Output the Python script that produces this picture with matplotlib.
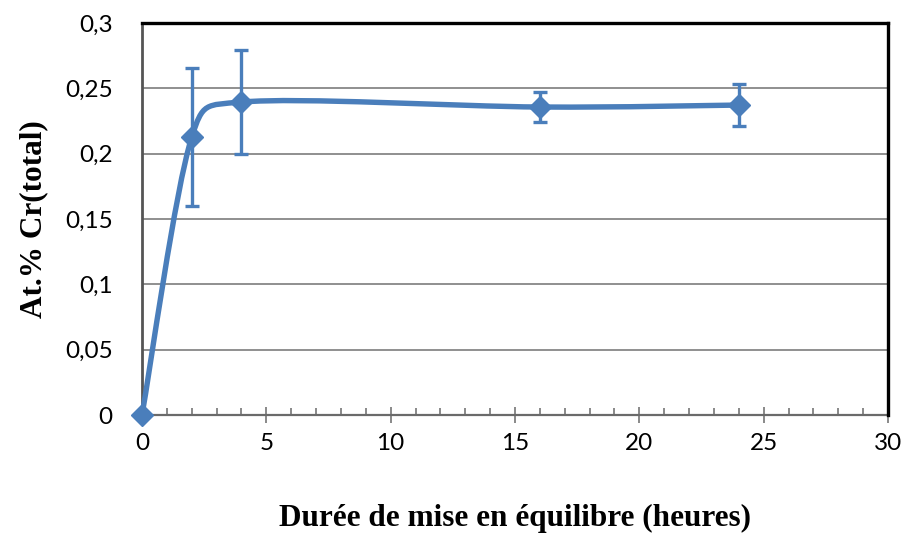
import numpy as np
import matplotlib.pyplot as plt
from matplotlib.path import Path
from matplotlib.patches import PathPatch
from matplotlib.ticker import MultipleLocator

# data
hours = [0, 2, 4, 16, 24]
cr_total = [0.0, 0.2127, 0.2395, 0.2357, 0.2372]
cr_err = [0.0, 0.053, 0.0395, 0.0118, 0.016]

x_ticks = [0, 5, 10, 15, 20, 25, 30]
x_ticklabels = ['0', '5', '10', '15', '20', '25', '30']
y_ticks = [0, 0.05, 0.1, 0.15, 0.2, 0.25, 0.3]
y_ticklabels = ['0', '0,05', '0,1', '0,15', '0,2', '0,25', '0,3']

blue = '#4A7EBB'


def smooth_path(x, y, sx, sy):
    # Excel-like smoothed line: cubic bezier through the points,
    # computed in pixel-proportional space
    P = np.column_stack([np.asarray(x, float) * sx, np.asarray(y, float) * sy])
    n = len(P)
    verts = [P[0]]
    codes = [Path.MOVETO]
    for i in range(n - 1):
        p0 = P[max(i - 1, 0)]
        p1 = P[i]
        p2 = P[i + 1]
        p3 = P[min(i + 2, n - 1)]
        seg = np.linalg.norm(p2 - p1)
        t1 = p2 - p0
        t2 = p3 - p1
        m1 = min(np.linalg.norm(t1) / 6, 0.6 * seg)
        m2 = min(np.linalg.norm(t2) / 6, 0.6 * seg)
        c1 = p1 + t1 / np.linalg.norm(t1) * m1
        c2 = p2 - t2 / np.linalg.norm(t2) * m2
        verts += [c1, c2, p2]
        codes += [Path.CURVE4] * 3
    verts = np.array(verts) / np.array([sx, sy])
    return Path(verts, codes)


fig = plt.figure(figsize=(9.06, 5.37), dpi=100)
ax = fig.add_axes([142 / 906, 122 / 537, 746 / 906, 392 / 537])

ax.set_xlim(0, 30)
ax.set_ylim(0, 0.3)

# gridlines
for yv in y_ticks[1:-1]:
    ax.axhline(yv, color='#878787', lw=1.3, zorder=1)

# smooth line
path = smooth_path(hours, cr_total, 746 / 30, 392 / 0.3)
ax.add_patch(PathPatch(path, facecolor='none', edgecolor=blue, lw=3.9,
                       capstyle='round', joinstyle='round', zorder=3,
                       clip_on=False))

ax.errorbar(hours[1:], cr_total[1:], yerr=cr_err[1:], fmt='none',
            ecolor=blue, elinewidth=2.4, capsize=4.8, capthick=2.4, zorder=4)
ax.plot(hours, cr_total, linestyle='none', marker='D', markersize=11,
        color=blue, zorder=5, clip_on=False)

# spines
for s in ['top', 'right']:
    ax.spines[s].set_color('black')
    ax.spines[s].set_linewidth(2.4)
ax.spines['left'].set_color('#555555')
ax.spines['left'].set_linewidth(2.0)
ax.spines['bottom'].set_color('#6a6a6a')
ax.spines['bottom'].set_linewidth(1.6)
ax.spines['left'].set_zorder(2)
ax.spines['bottom'].set_zorder(2)

ax.set_xticks(x_ticks)
ax.set_xticklabels(x_ticklabels)
ax.xaxis.set_minor_locator(MultipleLocator(1))
ax.set_yticks(y_ticks)
ax.set_yticklabels(y_ticklabels)

ax.tick_params(axis='x', which='major', direction='inout', length=12,
               width=1.3, color='#808080', pad=7, labelsize=17.5)
ax.tick_params(axis='x', which='minor', direction='in', length=5,
               width=1.3, color='#808080')
ax.tick_params(axis='y', length=0, pad=21, labelsize=17.5)
for lab in ax.get_xticklabels() + ax.get_yticklabels():
    lab.set_fontfamily('Lato')

ax.set_xlabel('Durée de mise en équilibre (heures)', fontfamily='Liberation Serif',
              fontweight='bold', fontsize=22.5, labelpad=36)
ax.set_ylabel('At.% Cr(total)', fontfamily='Liberation Serif',
              fontweight='bold', fontsize=22.5, labelpad=12)

fig.savefig('out.png', dpi=100)
